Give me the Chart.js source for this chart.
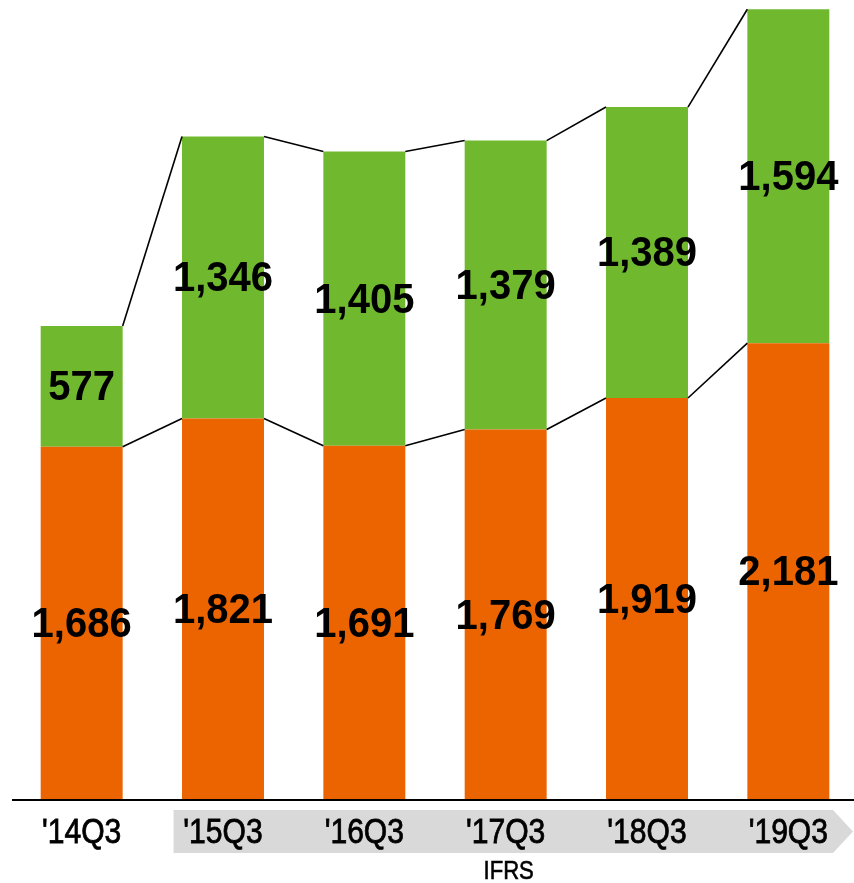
<!DOCTYPE html>
<html>
<head>
<meta charset="utf-8">
<script src="https://cdn.jsdelivr.net/npm/chart.js@4/dist/chart.umd.min.js"></script>
<style>
  html, body { margin: 0; padding: 0; background: #fff; overflow: hidden; }
  #wrap { position: relative; width: 854px; height: 883px; overflow: hidden; }
  #wrap canvas { position: absolute; left: 0; top: 0; }
</style>
</head>
<body>
<div id="wrap"><canvas id="c" width="862" height="883"></canvas></div>
<script>
// Quarterly figures, Q3 of each fiscal year
const quarters = ["'14Q3", "'15Q3", "'16Q3", "'17Q3", "'18Q3", "'19Q3"];
const lowerSeries = [1686, 1821, 1691, 1769, 1919, 2181];
const upperSeries = [577, 1346, 1405, 1379, 1389, 1594];
const ifrsLabel = 'IFRS';
// Periods reported under IFRS (first index covered by the arrow band)
const ifrsRange = [1, 5];

const ORANGE = '#EC6400';
const GREEN = '#70B92F';
const LABEL_FONT = 'bold 40px "Liberation Sans", Arial, sans-serif';
const TICK_FONT = '35px "Liberation Sans", Arial, sans-serif';
const NOTE_FONT = '26px "Liberation Sans", Arial, sans-serif';

// draw text squeezed horizontally / stretched vertically
function drawScaled(ctx, text, x, y, sx, sy, strokeW) {
  ctx.save();
  ctx.translate(x, y);
  ctx.scale(sx, sy);
  ctx.fillText(text, 0, 0);
  if (strokeW) {
    ctx.lineWidth = strokeW;
    ctx.strokeStyle = ctx.fillStyle;
    ctx.strokeText(text, 0, 0);
  }
  ctx.restore();
}

// Grey arrow band behind the IFRS period labels
const bandPlugin = {
  id: 'ifrsBand',
  beforeDraw(chart) {
    const { ctx } = chart;
    const x = chart.scales.x;
    const step = x.getPixelForValue(1) - x.getPixelForValue(0);
    const left = x.getPixelForValue(ifrsRange[0]) - step * 0.35;
    const right = 833;
    const tip = 853;
    const top = 810, bottom = 853;
    ctx.save();
    ctx.fillStyle = '#D9D9D9';
    ctx.beginPath();
    ctx.moveTo(left, top);
    ctx.lineTo(right, top);
    ctx.lineTo(tip, (top + bottom) / 2);
    ctx.lineTo(right, bottom);
    ctx.lineTo(left, bottom);
    ctx.closePath();
    ctx.fill();
    ctx.restore();
  }
};

// Connector lines, value labels, baseline and category labels
const overlayPlugin = {
  id: 'overlay',
  afterDatasetsDraw(chart) {
    const { ctx, chartArea } = chart;
    const lower = chart.getDatasetMeta(0).data;
    const upper = chart.getDatasetMeta(1).data;

    ctx.save();
    ctx.strokeStyle = '#000';
    ctx.lineWidth = 1.6;
    [lower, upper].forEach(bars => {
      for (let i = 0; i < bars.length - 1; i++) {
        const a = bars[i], b = bars[i + 1];
        ctx.beginPath();
        ctx.moveTo(a.x + a.width / 2, a.y);
        ctx.lineTo(b.x - b.width / 2, b.y);
        ctx.stroke();
      }
    });

    // values centred in each segment
    ctx.fillStyle = '#000';
    ctx.font = LABEL_FONT;
    ctx.textAlign = 'center';
    ctx.textBaseline = 'middle';
    const fmt = v => v.toLocaleString('en-US');
    lower.forEach((bar, i) => {
      drawScaled(ctx, fmt(lowerSeries[i]), bar.x, (bar.y + bar.base) / 2 + 2, 1, 1.08);
    });
    upper.forEach((bar, i) => {
      drawScaled(ctx, fmt(upperSeries[i]), bar.x, (bar.y + bar.base) / 2 + 2, 1, 1.08);
    });

    // baseline
    ctx.lineWidth = 2;
    ctx.beginPath();
    ctx.moveTo(12, chartArea.bottom);
    ctx.lineTo(862, chartArea.bottom);
    ctx.stroke();

    // category labels
    const x = chart.scales.x;
    ctx.font = TICK_FONT;
    ctx.textBaseline = 'alphabetic';
    quarters.forEach((q, i) => {
      drawScaled(ctx, q, x.getPixelForValue(i), 843, 0.86, 1, 0.8);
    });

    ctx.font = NOTE_FONT;
    drawScaled(ctx, ifrsLabel, x.getPixelForValue(3) + 3, 879, 0.85, 1, 0.6);
    ctx.restore();
  }
};

new Chart(document.getElementById('c'), {
  type: 'bar',
  data: {
    labels: quarters,
    datasets: [
      { data: lowerSeries, backgroundColor: ORANGE, barPercentage: 0.58, categoryPercentage: 1 },
      { data: upperSeries, backgroundColor: GREEN, barPercentage: 0.58, categoryPercentage: 1 }
    ]
  },
  options: {
    responsive: false,
    animation: false,
    layout: { padding: { left: 11, right: 3, top: 4, bottom: 83 } },
    plugins: { legend: { display: false }, tooltip: { enabled: false } },
    scales: {
      x: { stacked: true, display: false },
      y: { stacked: true, display: false, min: 0, max: 3800 }
    }
  },
  plugins: [bandPlugin, overlayPlugin]
});
</script>
</body>
</html>
